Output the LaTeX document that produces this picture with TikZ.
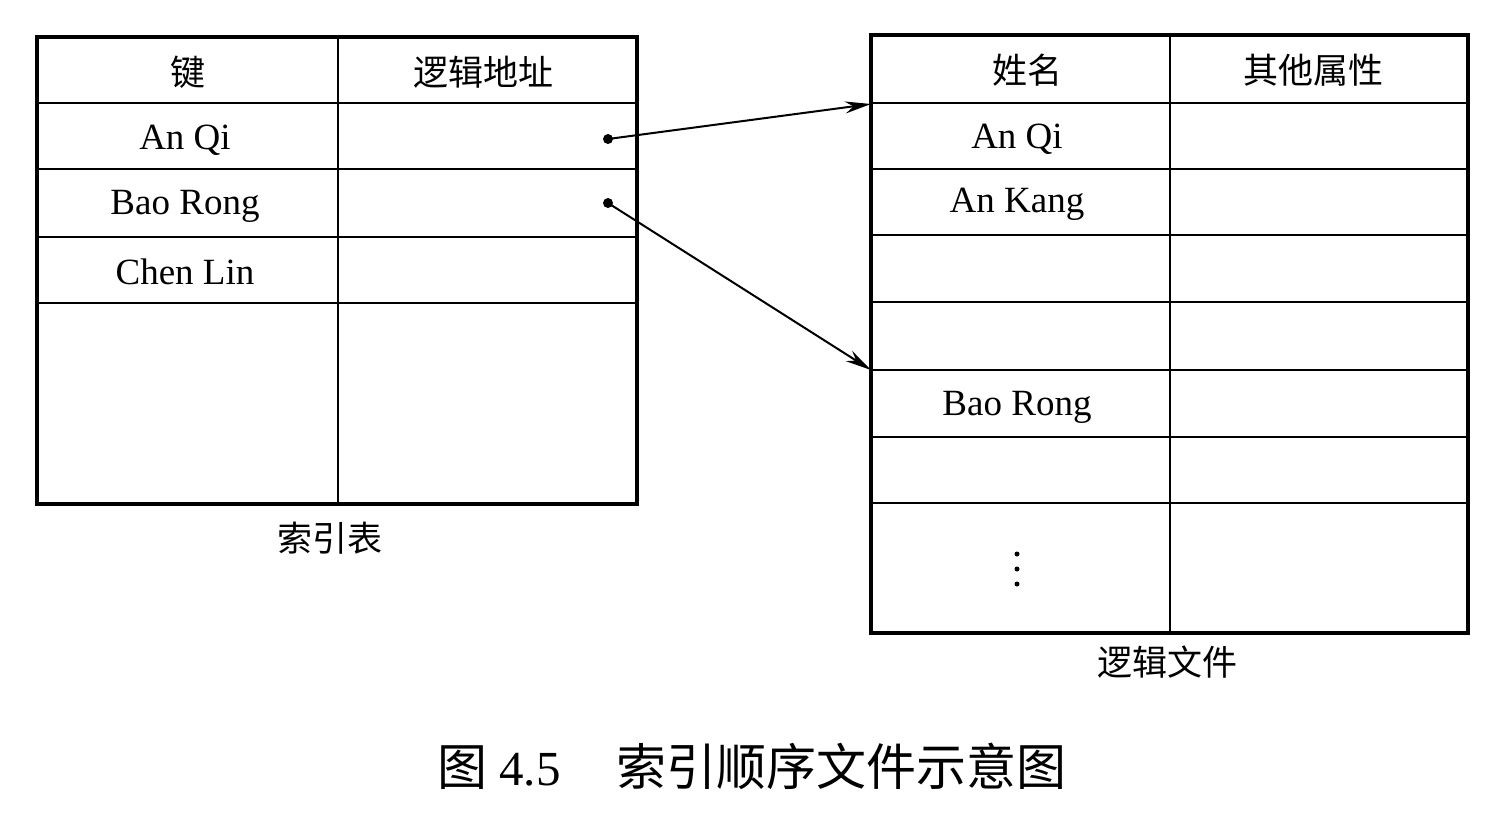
\documentclass[tikz,border=0pt]{standalone}
\usepackage{fontspec}
\setmainfont{Liberation Serif}
\newfontfamily\cjk{Noto Sans CJK SC}
\usetikzlibrary{arrows.meta}
\begin{document}
\begin{tikzpicture}[x=1pt,y=-1pt,
  frame/.style={line width=3.2pt},
  rule/.style={line width=2pt},
  celltext/.style={inner sep=0pt,font=\fontsize{37}{40}\selectfont},
  cjktext/.style={inner sep=0pt,font=\fontsize{35}{40}\selectfont\cjk},
  link/.style={line width=2pt,-{Stealth[length=26pt,width=12pt]}},
  pin/.style={circle,fill=black,inner sep=0pt,minimum size=10pt},
  dot/.style={circle,fill=black,inner sep=0pt,minimum size=5pt}]
\useasboundingbox[fill=white] (0,0) rectangle (1497,815);

% index table
\coordinate (iNW) at (37,37);
\coordinate (iSE) at (637,504);
\draw[frame] (iNW) rectangle (iSE);
\draw[rule] (338,37) -- (338,504);
\foreach \y in {103,169,237,303} \draw[rule] (37,\y) -- (637,\y);
\node[cjktext] (ikey) at (188,72) {键};
\node[cjktext] (iaddr) at (483,72) {逻辑地址};
\node[celltext] (i1) at (185,140) {An Qi};
\node[celltext] (i2) at (185,206) {Bao Rong};
\node[celltext] (i3) at (185,272) {Chen Lin};
\node[cjktext] (icap) at (330,538) {索引表};

% logical file
\coordinate (fNW) at (871,35);
\coordinate (fSE) at (1468,633);
\draw[frame] (fNW) rectangle (fSE);
\draw[rule] (1170,35) -- (1170,633);
\foreach \y in {103,169,235,302,370,437,503} \draw[rule] (871,\y) -- (1468,\y);
\node[cjktext] (fname) at (1027,70) {姓名};
\node[cjktext] (fattr) at (1313,70) {其他属性};
\node[celltext] (f1) at (1017,139) {An Qi};
\node[celltext] (f2) at (1017,204) {An Kang};
\node[celltext] (f5) at (1017,407) {Bao Rong};
% vertical ellipsis for the remaining records
\node[dot] (fd1) at (1017,554) {};
\node[dot] (fd2) at (1017,569) {};
\node[dot] (fd3) at (1017,584) {};
\node[cjktext] (fcap) at (1167,662) {逻辑文件};

% pointers from the index into the file
\node[pin] (p1) at (608,139) {};
\node[pin] (p2) at (608,203) {};
\coordinate (t1) at (871,104);
\coordinate (t2) at (871,370);
\draw[link] (p1.center) -- (t1);
\draw[link] (p2.center) -- (t2);

% caption
\node[inner sep=0pt,font=\fontsize{49}{52}\selectfont] (caption) at (752,766)
  {{\fontsize{50}{52}\selectfont\cjk 图}\hspace{12pt}4.5\hspace{56pt}{\fontsize{50}{52}\selectfont\cjk 索引顺序文件示意图}};
\end{tikzpicture}
\end{document}
